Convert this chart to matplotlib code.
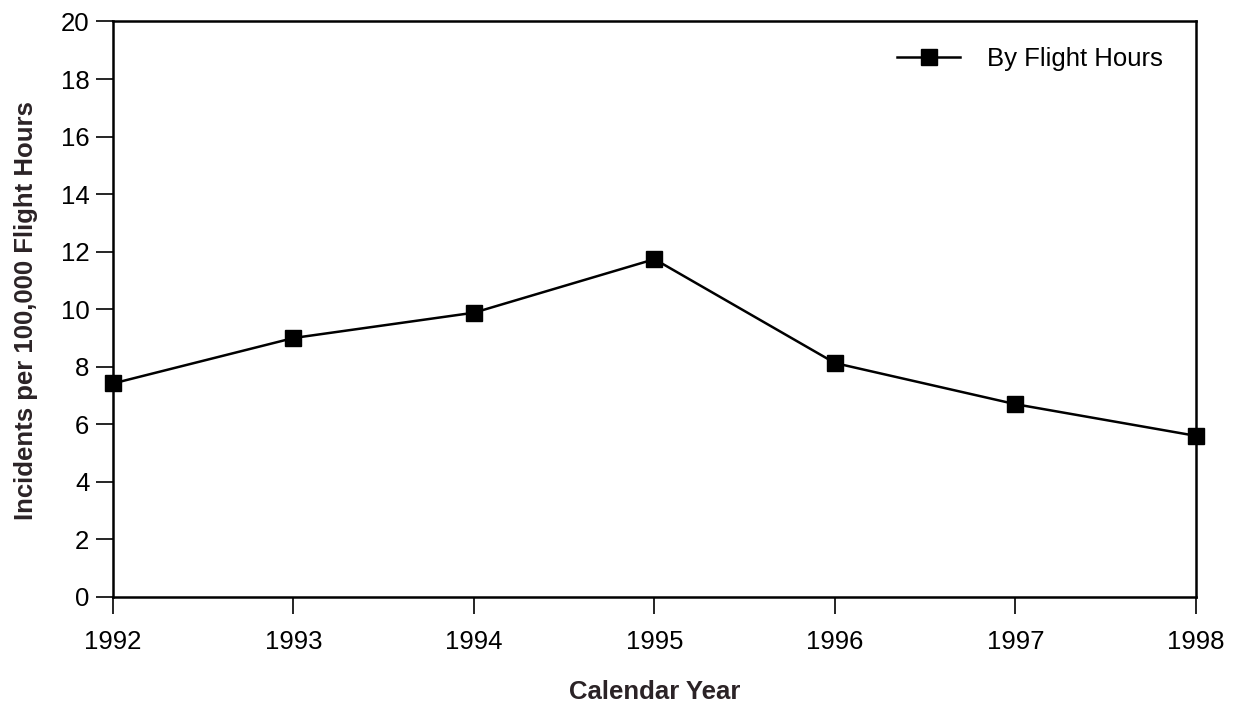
import matplotlib.pyplot as plt

years = [1992, 1993, 1994, 1995, 1996, 1997, 1998]
incidents = [7.42, 9.0, 9.88, 11.74, 8.13, 6.70, 5.60]
y_ticks = [0, 2, 4, 6, 8, 10, 12, 14, 16, 18, 20]

plt.rcParams['font.family'] = ['Liberation Sans', 'DejaVu Sans']

fig = plt.figure(figsize=(12.33, 7.07), dpi=100)
ax = fig.add_axes([0.0916, 0.1556, 0.8784, 0.814])

ax.plot(years, incidents, color='black', linewidth=1.8, marker='s',
        markersize=12, label='By Flight Hours', clip_on=False, zorder=5)

ax.set_xlim(1992, 1998)
ax.set_ylim(0, 20)
ax.set_xticks(years)
ax.set_yticks(y_ticks)
ax.tick_params(axis='both', direction='out', length=12, width=1.2,
               labelsize=18.5)
ax.tick_params(axis='x', pad=12)
ax.tick_params(axis='y', pad=5)

for s in ax.spines.values():
    s.set_linewidth(1.8)

ax.set_xlabel('Calendar Year', fontsize=18.5, fontweight='bold',
              color='#2b2326')
ax.set_ylabel('Incidents per 100,000 Flight Hours', fontsize=18.5,
              fontweight='bold', color='#2b2326')
ax.xaxis.set_label_coords(0.5005, -0.165)
ax.xaxis.label.set_va('center')
ax.yaxis.set_label_coords(-0.080, 0.497)
ax.yaxis.label.set_va('center')

ax.legend(loc='upper right', frameon=False, fontsize=18.5,
          handlelength=2.45, handletextpad=1.05, borderpad=0,
          borderaxespad=0, bbox_to_anchor=(0.9695, 0.955))

fig.savefig('out.png', dpi=100)
